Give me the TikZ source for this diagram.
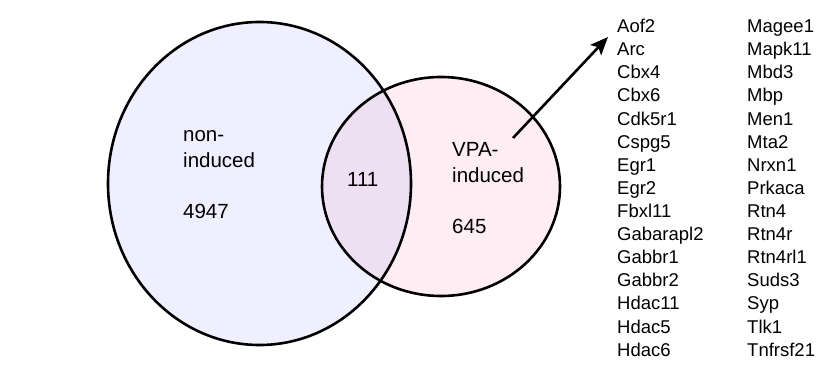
\documentclass[tikz,border=0pt]{standalone}
\usepackage{fontspec}
\setmainfont{Liberation Sans}
\usetikzlibrary{arrows.meta,shapes.geometric}
\definecolor{bigfill}{RGB}{239,239,255}
\definecolor{smallfill}{RGB}{255,237,244}
\definecolor{bothfill}{RGB}{238,224,242}
\begin{document}
\begin{tikzpicture}[x=1pt,y=-1pt,
  outline/.style={line width=2.6pt,draw=black,ellipse,inner sep=0pt},
  lbl/.style={anchor=base west,inner sep=0pt,font=\fontsize{20.5}{26}\selectfont,align=left},
  gene/.style={anchor=base west,inner sep=0pt,font=\fontsize{18.5}{23}\selectfont},
  pointer/.style={line width=2.6pt,-{Stealth[length=18pt,width=15pt,inset=4pt]}}]
\useasboundingbox (0,0) rectangle (819,371);
% fills
\fill[bigfill] (259.5,183.5) ellipse [x radius=151.5,y radius=161.5];
\fill[smallfill] (441,186.5) ellipse [x radius=119,y radius=109.5];
\begin{scope}
  \clip (259.5,183.5) ellipse [x radius=151.5,y radius=161.5];
  \fill[bothfill] (441,186.5) ellipse [x radius=119,y radius=109.5];
\end{scope}
% outlines
\node[outline,minimum width=303pt,minimum height=323pt] (bigset) at (259.5,183.5) {};
\node[outline,minimum width=238pt,minimum height=219pt] (smallset) at (441,186.5) {};
% labels (base anchor = baseline of last line)
\node[lbl] (nonlbl) at (183,167.5) {non-\\induced};
\node[lbl] (nonnum) at (183,219) {4947};
\node[lbl] (bothnum) at (347,187) {111};
\node[lbl] (vpalbl) at (452,183) {VPA-\\induced};
\node[lbl] (vpanum) at (452,234) {645};
% gene lists
\foreach \g [count=\i] in {Aof2,Arc,Cbx4,Cbx6,Cdk5r1,Cspg5,Egr1,Egr2,Fbxl11,Gabarapl2,Gabbr1,Gabbr2,Hdac11,Hdac5,Hdac6}
  \node[gene] (la\i) at (617,{32.7+23.1*(\i-1)}) {\g};
\foreach \g [count=\i] in {Magee1,Mapk11,Mbd3,Mbp,Men1,Mta2,Nrxn1,Prkaca,Rtn4,Rtn4r,Rtn4rl1,Suds3,Syp,Tlk1,Tnfrsf21}
  \node[gene] (lb\i) at (747,{32.7+23.1*(\i-1)}) {\g};
% arrow
\coordinate (arrS) at (513,138);
\coordinate (arrE) at (608,37);
\draw[pointer] (arrS) -- (arrE);
\end{tikzpicture}
\end{document}
